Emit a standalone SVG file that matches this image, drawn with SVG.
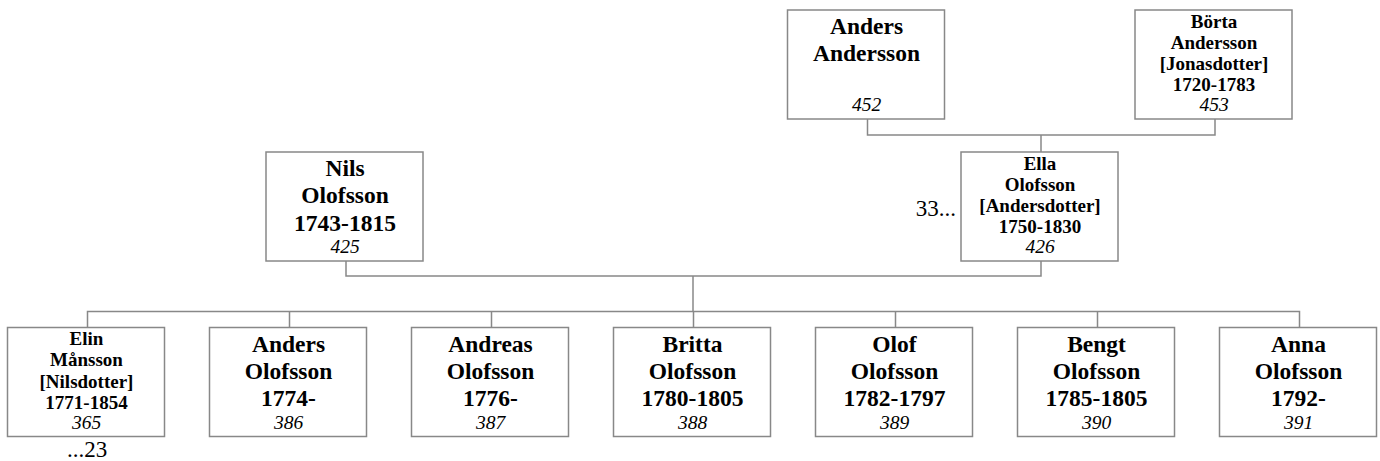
<svg xmlns="http://www.w3.org/2000/svg" width="1380" height="461" viewBox="0 0 1380 461">
<style>
.box{fill:#fff;stroke:#888;stroke-width:1.5}
.con{fill:none;stroke:#888;stroke-width:1.5}
text{font-family:"Liberation Serif","Times New Roman",serif;fill:#000;text-anchor:middle}
.b{font-weight:bold;font-size:23.5px}
.s{font-weight:bold;font-size:19px}
.n{font-style:italic;font-size:19.5px}
.m{font-size:23px}
</style>
<g id="connectors">
<path class="con" d="M867.5 119 V135 H1215 V119"/>
<path class="con" d="M1041 135 V152"/>
<path class="con" d="M346 261 V276 H1041 V261"/>
<path class="con" d="M693 276 V311.5"/>
<path class="con" d="M87.5 327.5 V311.5 H1299.5 V327.5"/>
<path class="con" d="M289.5 311.5 V327.5 M491.5 311.5 V327.5 M693.5 311.5 V327.5 M895.5 311.5 V327.5 M1097.5 311.5 V327.5"/>
</g>
<g id="n452">
<rect class="box" x="787.5" y="10" width="157" height="109"/>
<text class="b" x="866.5" y="34.3">Anders</text>
<text class="b" x="866.5" y="61">Andersson</text>
<text class="n" x="866.5" y="111">452</text>
</g>
<g id="n453">
<rect class="box" x="1135" y="10" width="157" height="109"/>
<text class="s" x="1214" y="27.6">Börta</text>
<text class="s" x="1214" y="48.8">Andersson</text>
<text class="s" x="1214" y="70">[Jonasdotter]</text>
<text class="s" x="1214" y="91.2">1720-1783</text>
<text class="n" x="1214" y="111">453</text>
</g>
<g id="n425">
<rect class="box" x="266" y="152" width="157" height="109"/>
<text class="b" x="345" y="176.3">Nils</text>
<text class="b" x="345" y="203">Olofsson</text>
<text class="b" x="345" y="230.5">1743-1815</text>
<text class="n" x="345" y="253">425</text>
</g>
<g id="n426">
<rect class="box" x="961" y="152" width="157" height="109"/>
<text class="s" x="1040" y="169.6">Ella</text>
<text class="s" x="1040" y="190.8">Olofsson</text>
<text class="s" x="1040" y="212">[Andersdotter]</text>
<text class="s" x="1040" y="233.2">1750-1830</text>
<text class="n" x="1040" y="253">426</text>
<text class="m" x="956" y="216" style="text-anchor:end">33...</text>
</g>
<g id="n365">
<rect class="box" x="7.5" y="327.5" width="157" height="109"/>
<text class="s" x="86.5" y="345.1">Elin</text>
<text class="s" x="86.5" y="366.3">Månsson</text>
<text class="s" x="86.5" y="387.5">[Nilsdotter]</text>
<text class="s" x="86.5" y="408.7">1771-1854</text>
<text class="n" x="86.5" y="428.5">365</text>
<text class="m" x="87" y="456.5">...23</text>
</g>
<g id="n386">
<rect class="box" x="209.5" y="327.5" width="157" height="109"/>
<text class="b" x="288.5" y="351.8">Anders</text>
<text class="b" x="288.5" y="378.5">Olofsson</text>
<text class="b" x="288.5" y="406">1774-</text>
<text class="n" x="288.5" y="428.5">386</text>
</g>
<g id="n387">
<rect class="box" x="411.5" y="327.5" width="157" height="109"/>
<text class="b" x="490.5" y="351.8">Andreas</text>
<text class="b" x="490.5" y="378.5">Olofsson</text>
<text class="b" x="490.5" y="406">1776-</text>
<text class="n" x="490.5" y="428.5">387</text>
</g>
<g id="n388">
<rect class="box" x="613.5" y="327.5" width="157" height="109"/>
<text class="b" x="692.5" y="351.8">Britta</text>
<text class="b" x="692.5" y="378.5">Olofsson</text>
<text class="b" x="692.5" y="406">1780-1805</text>
<text class="n" x="692.5" y="428.5">388</text>
</g>
<g id="n389">
<rect class="box" x="815.5" y="327.5" width="157" height="109"/>
<text class="b" x="894.5" y="351.8">Olof</text>
<text class="b" x="894.5" y="378.5">Olofsson</text>
<text class="b" x="894.5" y="406">1782-1797</text>
<text class="n" x="894.5" y="428.5">389</text>
</g>
<g id="n390">
<rect class="box" x="1017.5" y="327.5" width="157" height="109"/>
<text class="b" x="1096.5" y="351.8">Bengt</text>
<text class="b" x="1096.5" y="378.5">Olofsson</text>
<text class="b" x="1096.5" y="406">1785-1805</text>
<text class="n" x="1096.5" y="428.5">390</text>
</g>
<g id="n391">
<rect class="box" x="1219.5" y="327.5" width="157" height="109"/>
<text class="b" x="1298.5" y="351.8">Anna</text>
<text class="b" x="1298.5" y="378.5">Olofsson</text>
<text class="b" x="1298.5" y="406">1792-</text>
<text class="n" x="1298.5" y="428.5">391</text>
</g>
</svg>
